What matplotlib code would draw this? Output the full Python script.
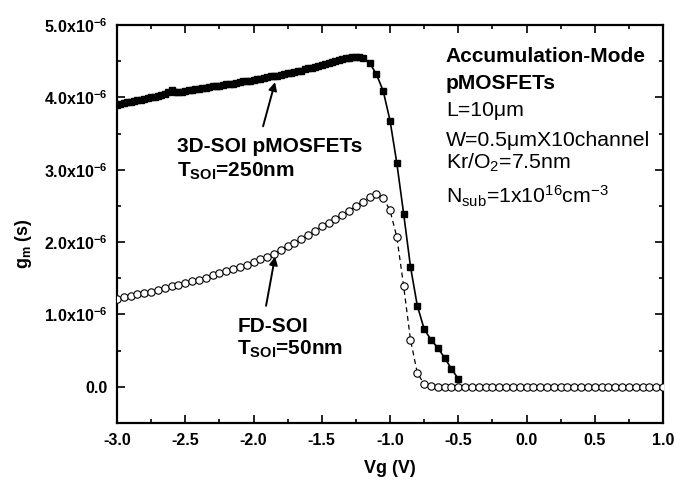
import matplotlib
matplotlib.use('Agg')
import matplotlib.pyplot as plt

plt.rcParams['font.family'] = ['Liberation Sans', 'DejaVu Sans']
plt.rcParams['mathtext.fontset'] = 'custom'
plt.rcParams['mathtext.rm'] = 'Liberation Sans'
plt.rcParams['mathtext.bf'] = 'Liberation Sans:bold'
plt.rcParams['mathtext.it'] = 'Liberation Sans:italic'

# 3D-SOI pMOSFET (Tsoi = 250nm), gm in units of 1e-6 S
vg_3d = [-3.0, -2.975, -2.95, -2.925, -2.9, -2.875, -2.85, -2.825, -2.8, -2.775,
         -2.75, -2.725, -2.7, -2.675, -2.65, -2.625, -2.6, -2.575, -2.55, -2.525,
         -2.5, -2.475, -2.45, -2.425, -2.4, -2.375, -2.35, -2.325, -2.3, -2.275,
         -2.25, -2.225, -2.2, -2.175, -2.15, -2.125, -2.1, -2.075, -2.05, -2.025,
         -2.0, -1.975, -1.95, -1.925, -1.9, -1.875, -1.85, -1.825, -1.8, -1.775,
         -1.75, -1.725, -1.7, -1.675, -1.65, -1.625, -1.6, -1.575, -1.55, -1.525,
         -1.5, -1.475, -1.45, -1.425, -1.4, -1.375, -1.35, -1.325, -1.3, -1.275,
         -1.25, -1.225, -1.2,
         -1.15, -1.1, -1.05, -1.0, -0.95, -0.9, -0.85, -0.8, -0.75, -0.7,
         -0.65, -0.6, -0.55, -0.5]
gm_3d = [3.90, 3.91, 3.92, 3.93, 3.94, 3.95, 3.96, 3.97, 3.98, 3.99,
         4.00, 4.01, 4.02, 4.03, 4.04, 4.08, 4.10, 4.08, 4.07, 4.08,
         4.09, 4.10, 4.10, 4.11, 4.12, 4.13, 4.13, 4.14, 4.15, 4.16,
         4.16, 4.17, 4.18, 4.19, 4.19, 4.20, 4.21, 4.22, 4.22, 4.23,
         4.24, 4.25, 4.26, 4.27, 4.28, 4.29, 4.29, 4.30, 4.31, 4.32,
         4.33, 4.34, 4.35, 4.36, 4.37, 4.39, 4.40, 4.41, 4.42, 4.44,
         4.45, 4.46, 4.47, 4.49, 4.50, 4.52, 4.53, 4.54, 4.55, 4.56,
         4.56, 4.56, 4.55,
         4.48, 4.32, 4.09, 3.68, 3.09, 2.39, 1.66, 1.12, 0.80, 0.65,
         0.54, 0.40, 0.25, 0.11]

# FD-SOI (Tsoi = 50nm)
vg_fd = [-3.0, -2.95, -2.9, -2.85, -2.8, -2.75, -2.7, -2.65, -2.6, -2.55,
         -2.5, -2.45, -2.4, -2.35, -2.3, -2.25, -2.2, -2.15, -2.1, -2.05,
         -2.0, -1.95, -1.9, -1.85, -1.8, -1.75, -1.7, -1.65, -1.6, -1.55,
         -1.5, -1.45, -1.4, -1.35, -1.3, -1.25, -1.2, -1.15, -1.1, -1.05,
         -1.0, -0.95, -0.9, -0.85, -0.8, -0.75, -0.7, -0.65, -0.6, -0.55,
         -0.5, -0.45, -0.4, -0.35, -0.3, -0.25, -0.2, -0.15, -0.1, -0.05,
         0.0, 0.05, 0.1, 0.15, 0.2, 0.25, 0.3, 0.35, 0.4, 0.45,
         0.5, 0.55, 0.6, 0.65, 0.7, 0.75, 0.8, 0.85, 0.9, 0.95, 1.0]
gm_fd = [1.22, 1.24, 1.26, 1.28, 1.29, 1.31, 1.34, 1.36, 1.39, 1.41,
         1.43, 1.46, 1.48, 1.51, 1.54, 1.57, 1.60, 1.63, 1.66, 1.69,
         1.72, 1.76, 1.80, 1.84, 1.89, 1.94, 1.99, 2.04, 2.10, 2.16,
         2.22, 2.27, 2.32, 2.37, 2.43, 2.50, 2.56, 2.62, 2.66, 2.61,
         2.44, 2.07, 1.39, 0.65, 0.19, 0.04, 0.01, 0.0, 0.0, 0.0,
         0.0, 0.0, 0.0, 0.0, 0.0, 0.0, 0.0, 0.0, 0.0, 0.0,
         0.0, 0.0, 0.0, 0.0, 0.0, 0.0, 0.0, 0.0, 0.0, 0.0,
         0.0, 0.0, 0.0, 0.0, 0.0, 0.0, 0.0, 0.0, 0.0, 0.0, 0.0]

xticks = [-3.0, -2.5, -2.0, -1.5, -1.0, -0.5, 0.0, 0.5, 1.0]
xtick_labels = ['-3.0', '-2.5', '-2.0', '-1.5', '-1.0', '-0.5', '0.0', '0.5', '1.0']
yticks = [0.0, 1.0e-6, 2.0e-6, 3.0e-6, 4.0e-6, 5.0e-6]
ytick_labels = ['0.0', r'1.0x10$^{\mathbf{-6}}$', r'2.0x10$^{\mathbf{-6}}$',
                r'3.0x10$^{\mathbf{-6}}$', r'4.0x10$^{\mathbf{-6}}$', r'5.0x10$^{\mathbf{-6}}$']

fig = plt.figure(figsize=(6.74, 4.87), dpi=100)
ax = fig.add_axes([0.1736, 0.1314, 0.8101, 0.8173])

y3d = [v * 1e-6 for v in gm_3d]
yfd = [v * 1e-6 for v in gm_fd]
ax.plot(vg_3d, y3d, '-', color='black', lw=1.2, marker='s', ms=5.0,
        mfc='black', mec='black', zorder=2)
ax.plot(vg_fd, yfd, color='black', lw=0.9, ls=(0, (4, 3)), marker='o', ms=5.3,
        mfc='white', mec='black', mew=0.8, zorder=3)

ax.set_xlim(-3.0, 1.0)
ax.set_ylim(-0.5e-6, 5.0e-6)
ax.set_xticks(xticks, xtick_labels)
ax.set_yticks(yticks, ytick_labels)
ax.set_xticks([-2.75, -2.25, -1.75, -1.25, -0.75, -0.25, 0.25, 0.75], minor=True)
ax.set_yticks([-0.5e-6, 0.5e-6, 1.5e-6, 2.5e-6, 3.5e-6, 4.5e-6], minor=True)
ax.tick_params(which='both', direction='in', top=True, right=True, width=1.2)
ax.tick_params(which='major', length=6, labelsize=11.5, pad=7)
ax.tick_params(which='minor', length=3)
for lab in ax.get_xticklabels() + ax.get_yticklabels():
    lab.set_fontweight('bold')
for sp in ax.spines.values():
    sp.set_linewidth(1.6)

ax.set_xlabel('Vg (V)', fontsize=13, fontweight='bold')
ax.xaxis.set_label_coords(0.5, -0.093)
ax.set_ylabel(r'g$_{\mathbf{m}}$ (s)', fontsize=13, fontweight='bold')
ax.yaxis.set_label_coords(-0.152, 0.452)

# annotations
ax.text(-2.56, 3.25e-6, '3D-SOI pMOSFETs', fontsize=15, fontweight='bold', va='baseline')
ax.text(-2.56, 2.90e-6, r'T$_{\mathbf{SOI}}$=250nm', fontsize=15, fontweight='bold', va='baseline')
ax.annotate('', xy=(-1.842, 4.21e-6), xytext=(-1.93, 3.6e-6),
            arrowprops=dict(arrowstyle='-|>', color='black', lw=1.4,
                            mutation_scale=12, shrinkA=0, shrinkB=0))
ax.text(-2.12, 0.76e-6, 'FD-SOI', fontsize=15, fontweight='bold', va='baseline')
ax.text(-2.12, 0.45e-6, r'T$_{\mathbf{SOI}}$=50nm', fontsize=15, fontweight='bold', va='baseline')
ax.annotate('', xy=(-1.842, 1.80e-6), xytext=(-1.908, 1.12e-6),
            arrowprops=dict(arrowstyle='-|>', color='black', lw=1.4,
                            mutation_scale=12, shrinkA=0, shrinkB=0))

tx = -0.59
ax.text(tx, 4.49e-6, 'Accumulation-Mode', fontsize=15, fontweight='bold', va='baseline')
ax.text(tx, 4.12e-6, 'pMOSFETs', fontsize=15, fontweight='bold', va='baseline')
ax.text(tx, 3.74e-6, 'L=10μm', fontsize=15.3, va='baseline')
ax.text(tx, 3.33e-6, 'W=0.5μmX10channel', fontsize=15.3, va='baseline')
ax.text(tx, 3.01e-6, r'Kr/O$_2$=7.5nm', fontsize=15.3, va='baseline')
ax.text(tx, 2.53e-6, r'N$_{\mathrm{sub}}$=1x10$^{16}$cm$^{-3}$', fontsize=15.3, va='baseline')

fig.savefig('out.png', dpi=100)
